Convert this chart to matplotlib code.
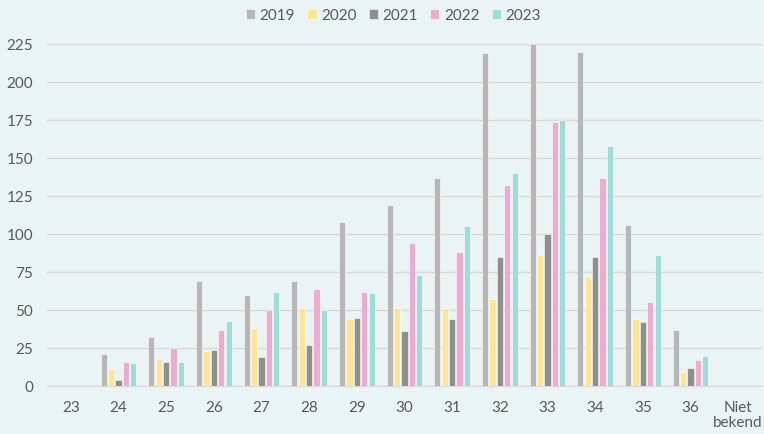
import numpy as np
import matplotlib
matplotlib.use('Agg')
from matplotlib import pyplot as plt

plt.rcParams['font.family'] = ['Lato', 'DejaVu Sans']

# Data
categories = ['23', '24', '25', '26', '27', '28', '29', '30', '31', '32',
              '33', '34', '35', '36', 'Niet\nbekend']
years = ['2019', '2020', '2021', '2022', '2023']
v2019 = [0, 21, 32, 69, 60, 69, 108, 119, 137, 219, 225, 220, 106, 37, 0]
v2020 = [0, 11, 18, 23, 38, 51, 44, 51, 51, 57, 86, 72, 44, 9, 0]
v2021 = [0, 4, 16, 24, 19, 27, 45, 36, 44, 85, 100, 85, 42, 12, 0]
v2022 = [0, 16, 25, 37, 50, 64, 62, 94, 88, 132, 174, 137, 55, 17, 0]
v2023 = [0, 15, 16, 43, 62, 50, 61, 73, 105, 140, 175, 158, 86, 20, 0]
series = [v2019, v2020, v2021, v2022, v2023]
colors = ['#b7b7b7', '#fde597', '#8f8f8f', '#ebadcd', '#a0dcd7']

bg = '#eaf4f5'
txt = '#595959'

fig = plt.figure(figsize=(7.64, 4.34), dpi=100, facecolor=bg)
ax = fig.add_axes([47 / 764, 1 - 386 / 434, 715 / 764, 342 / 434])
ax.set_facecolor(bg)

x = np.arange(len(categories))
slot = 0.155
width = 0.13
for i, (vals, c, yr) in enumerate(zip(series, colors, years)):
    ax.bar(x + (i - 2) * slot, vals, width, color=c, label=yr,
           edgecolor='white', linewidth=0.4, zorder=3)

ax.set_xlim(-0.5, len(categories) - 0.5)
ax.set_ylim(0, 225)
ax.set_yticks(np.arange(0, 226, 25))
ax.set_xticks(x)
ax.set_xticklabels(categories, linespacing=1.1)
ax.grid(axis='y', color='#d9d9d9', linewidth=1, zorder=0)
for s in ['top', 'right', 'left']:
    ax.spines[s].set_visible(False)
ax.spines['bottom'].set_color('#d9d9d9')
ax.tick_params(length=0, colors=txt, labelsize=11)
ax.tick_params(axis='x', pad=11)
ax.tick_params(axis='y', pad=10)

leg = fig.legend(loc='upper center', bbox_to_anchor=(0.515, 1.012), ncol=5,
                 frameon=False, fontsize=11, handlelength=0.6, handleheight=0.6,
                 handletextpad=0.3, columnspacing=0.8, labelcolor=txt)

fig.savefig('out.png', dpi=100, facecolor=bg)
